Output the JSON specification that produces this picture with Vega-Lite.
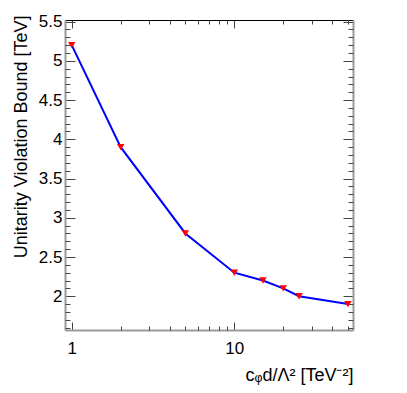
{
  "$schema": "https://vega.github.io/schema/vega-lite/v6.json",
  "autosize": "none",
  "width": 288,
  "height": 310,
  "padding": {"left": 65, "top": 20, "right": 54, "bottom": 63},
  "background": "white",
  "config": {
    "view": {"stroke": null},
    "font": "Liberation Sans",
    "axis": {"domain": false, "grid": false, "tickColor": "#444", "tickWidth": 1, "labelFont": "Liberation Sans", "titleFont": "Liberation Sans", "labelColor": "#000", "titleColor": "#000", "labelFontSize": 17, "titleFontSize": 18, "titleFontWeight": "normal"}
  },
  "data": {"values": [
    {"c": 1, "bound": 5.2},
    {"c": 2, "bound": 3.9},
    {"c": 5, "bound": 2.8},
    {"c": 10, "bound": 2.3},
    {"c": 15, "bound": 2.2},
    {"c": 20, "bound": 2.1},
    {"c": 25, "bound": 2.0},
    {"c": 50, "bound": 1.9}
  ]},
  "resolve": {"axis": {"x": "independent", "y": "independent"}},
  "layer": [
    {
      "mark": {"type": "line", "color": "#0000ff", "strokeWidth": 2},
      "encoding": {
        "x": {"field": "c", "type": "quantitative", "scale": {"type": "log", "domain": [0.909, 53.7], "nice": false},
          "axis": {"orient": "bottom", "domain": true, "domainColor": "#999", "domainWidth": 2, "values": [1, 10], "format": "d", "tickSize": -8, "labelPadding": 18, "title": "cᵩd/Λ² [TeV⁻²]", "titleAnchor": "end", "titleAlign": "right", "titleBaseline": "alphabetic", "titleX": 288, "titleY": 50}},
        "y": {"field": "bound", "type": "quantitative", "scale": {"domain": [1.57, 5.52], "nice": false, "zero": false},
          "axis": {"orient": "left", "domain": true, "domainColor": "#999", "domainWidth": 2, "values": [2, 2.5, 3, 3.5, 4, 4.5, 5, 5.5], "format": ".1~f", "tickSize": -10, "labelPadding": 13, "title": "Unitarity Violation Bound [TeV]", "titleAngle": -90, "titleAnchor": "end", "titleAlign": "right", "titleBaseline": "middle", "titleX": -44, "titleY": -5}}
      }
    },
    {
      "mark": {"type": "point", "shape": "triangle-down", "filled": true, "color": "#ff0000", "opacity": 1, "size": 55},
      "encoding": {
        "x": {"field": "c", "type": "quantitative", "scale": {"type": "log", "domain": [0.909, 53.7], "nice": false},
          "axis": {"orient": "bottom", "values": [2, 3, 4, 5, 6, 7, 8, 9, 20, 30, 40, 50], "tickSize": -4, "labels": false, "title": null}},
        "y": {"field": "bound", "type": "quantitative", "scale": {"domain": [1.57, 5.52], "nice": false, "zero": false},
          "axis": {"orient": "left", "values": [1.6, 1.7, 1.8, 1.9, 2.1, 2.2, 2.3, 2.4, 2.6, 2.7, 2.8, 2.9, 3.1, 3.2, 3.3, 3.4, 3.6, 3.7, 3.8, 3.9, 4.1, 4.2, 4.3, 4.4, 4.6, 4.7, 4.8, 4.9, 5.1, 5.2, 5.3, 5.4], "tickSize": -5, "labels": false, "title": null}}
      }
    },
    {
      "mark": {"type": "point", "opacity": 0},
      "encoding": {
        "x": {"field": "c", "type": "quantitative", "scale": {"type": "log", "domain": [0.909, 53.7], "nice": false},
          "axis": {"orient": "top", "domain": true, "domainColor": "#000", "domainWidth": 1, "values": [1, 10], "tickSize": -8, "labels": false, "title": null}},
        "y": {"field": "bound", "type": "quantitative", "scale": {"domain": [1.57, 5.52], "nice": false, "zero": false},
          "axis": {"orient": "right", "domain": true, "domainColor": "#999", "domainWidth": 2, "values": [2, 2.5, 3, 3.5, 4, 4.5, 5, 5.5], "tickSize": -10, "labels": false, "title": null}}
      }
    },
    {
      "mark": {"type": "point", "opacity": 0},
      "encoding": {
        "x": {"field": "c", "type": "quantitative", "scale": {"type": "log", "domain": [0.909, 53.7], "nice": false},
          "axis": {"orient": "top", "values": [2, 3, 4, 5, 6, 7, 8, 9, 20, 30, 40, 50], "tickSize": -4, "labels": false, "title": null}},
        "y": {"field": "bound", "type": "quantitative", "scale": {"domain": [1.57, 5.52], "nice": false, "zero": false},
          "axis": {"orient": "right", "values": [1.6, 1.7, 1.8, 1.9, 2.1, 2.2, 2.3, 2.4, 2.6, 2.7, 2.8, 2.9, 3.1, 3.2, 3.3, 3.4, 3.6, 3.7, 3.8, 3.9, 4.1, 4.2, 4.3, 4.4, 4.6, 4.7, 4.8, 4.9, 5.1, 5.2, 5.3, 5.4], "tickSize": -5, "labels": false, "title": null}}
      }
    }
  ]
}
